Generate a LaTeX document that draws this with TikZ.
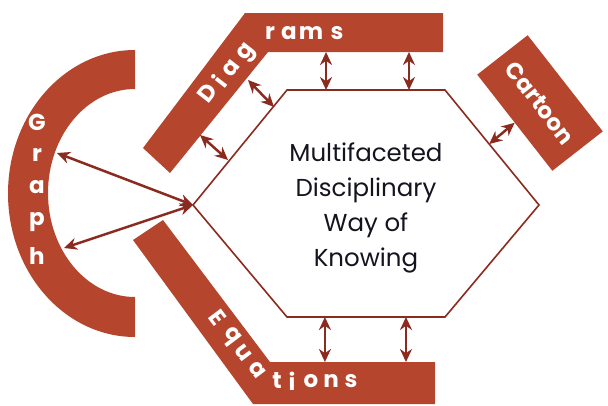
\documentclass[tikz,border=0pt]{standalone}
\usepackage{fontspec}
\setmainfont{Poppins}
\usepackage{tikz}
\usetikzlibrary{arrows.meta,positioning,calc}
\definecolor{rust}{HTML}{B5452C}
\definecolor{darkrust}{HTML}{8B2A1E}
\definecolor{ink}{HTML}{14141F}
\tikzstyle{band} = [fill=rust, draw=none]
\tikzstyle{lbl}  = [text=white, font=\bfseries\fontsize{23}{23}\selectfont, inner sep=0pt]
\tikzstyle{hex}  = [draw=darkrust, line width=1.6pt, line join=miter]
\tikzstyle{arr}  = [darkrust, line width=2.5pt, {Stealth[length=13pt,width=12pt]}-{Stealth[length=13pt,width=12pt]}]
\tikzstyle{core} = [ink, align=center, inner sep=0pt, font=\fontsize{24.5}{35}\selectfont]

\begin{document}
\begin{tikzpicture}
		[
			x=1pt, y=-1pt,
			box/.style={band, text=white, inner sep=0pt, font=\bfseries\fontsize{23}{23}\selectfont}
		]
		\useasboundingbox (0,0) rectangle (608,405);

		% hexagon
		\coordinate (hw)  at (193,205);
		\coordinate (hnw) at (287,90);
		\coordinate (hne) at (445,90);
		\coordinate (he)  at (539,205);
		\coordinate (hse) at (445,317);
		\coordinate (hsw) at (287,317);
		\draw[hex] (hw) -- (hnw) -- (hne) -- (he) -- (hse) -- (hsw) -- cycle;
		\node[core] (know) at (366,208) {Multifaceted\\Disciplinary\\Way of\\Knowing};

		% bands
		\coordinate (dgin) at (268,52);
		\coordinate (eqin) at (270,362);
		\fill[band] (245,13) -- (443,13) -- (443,52) -- (dgin) -- (170,173) -- (143,148) -- cycle;
		\fill[band] (163,220) -- (eqin) -- (435,362) -- (435,404) -- (253,404) -- (133,240) -- cycle;
		\fill[band] (135,50) arc[start angle=270, end angle=90, x radius=127, y radius=143.5]
			-- (135,297) arc[start angle=90, end angle=270, x radius=87, y radius=104] -- cycle;
		\node[box, rotate=-52, minimum width=122pt, minimum height=64pt] (cartoon) at (540,103) {Cartoon};

		% letters
		\foreach \c/\x/\y [count=\i] in {D/207/93, i/219/81, a/231/68, g/248/53}
			\node[lbl, rotate=52] (dg\i) at (\x,\y) {\c};
		\foreach \c/\x [count=\i] in {r/270, a/289, m/311, s/337}
			\node[lbl] (dh\i) at (\x,33) {\c};
		\foreach \c/\x/\y [count=\i] in {E/218/318, q/231/337, u/243/353, a/257/370}
			\node[lbl, rotate=-53] (eg\i) at (\x,\y) {\c};
		\foreach \c/\x [count=\i] in {t/277, i/292, o/311, n/331, s/351}
			\node[lbl] (eh\i) at (\x,381) {\c};
		\foreach \c/\y [count=\i] in {G/122, r/155, a/187, p/222, h/256}
			\node[lbl] (gr\i) at (37,\y) {\c};

		% arrows
		\coordinate (top1) at ($(hnw)!0.247!(hne)$);
		\coordinate (top2) at ($(hnw)!0.772!(hne)$);
		\coordinate (bot1) at ($(hsw)!0.24!(hse)$);
		\coordinate (bot2) at ($(hsw)!0.753!(hse)$);
		\draw[arr] (top1 |- dgin) -- (top1);
		\draw[arr] (top2 |- dgin) -- (top2);
		\draw[arr] (bot1) -- (bot1 |- eqin);
		\draw[arr] (bot2) -- (bot2 |- eqin);

		\coordinate (dg-a) at (248,80);
		\coordinate (hx-a) at (274,107);
		\coordinate (dg-b) at (200,135);
		\coordinate (hx-b) at (228,160);
		\draw[arr] (dg-a) -- (hx-a);
		\draw[arr] (dg-b) -- (hx-b);

		\draw[arr] (cartoon.south) -- ($(hne)!0.47!(he)$);

		\coordinate (gp-a) at (57,153);
		\coordinate (gp-b) at (64,248);
		\draw[arr] (gp-a) -- (hw);
		\draw[arr] (gp-b) -- (hw);
	\end{tikzpicture}
\end{document}
